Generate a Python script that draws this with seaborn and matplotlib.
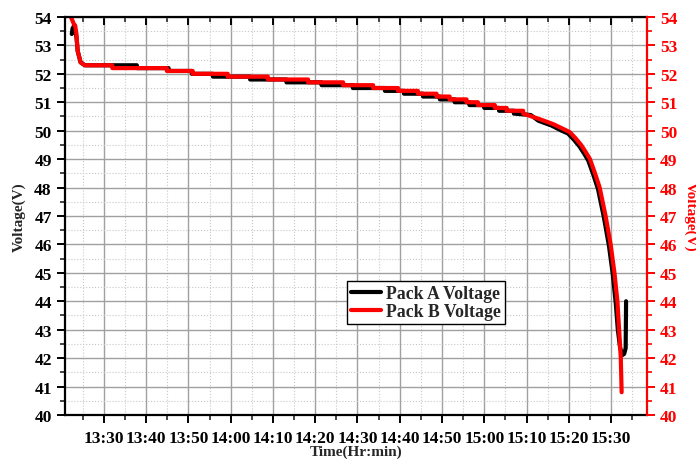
import pandas as pd
import matplotlib
matplotlib.use("Agg")
import matplotlib.pyplot as plt
from matplotlib.ticker import MultipleLocator, FuncFormatter
import seaborn as sns

# time in minutes after 13:00, voltage in V
pack_a_time = [22.4, 22.6, 23.0, 23.5, 23.8, 24.5, 25.5, 37.8, 37.8, 45.3, 45.3,
               50.8, 50.8, 55.8, 55.8, 64.6, 64.6, 73.2, 73.2, 81.5, 81.5,
               88.9, 88.9, 96.5, 96.5, 101.0, 101.0, 105.5, 105.5, 109.5, 109.5,
               113.0, 113.0, 116.5, 116.5, 120.0, 120.0, 123.5, 123.5, 127.0, 127.0,
               131.0, 132.8, 135.9, 138.3, 139.8, 141.1, 142.5, 143.6, 144.6, 145.8,
               146.9, 147.6, 148.3, 148.9, 149.5, 150.4, 151.1, 151.6, 152.1, 152.6,
               153.1, 153.45, 153.55]
pack_a_volt = [53.4, 53.6, 53.7, 53.3, 52.8, 52.4, 52.3, 52.3, 52.2, 52.2, 52.1,
               52.1, 52.0, 52.0, 51.9, 51.9, 51.8, 51.8, 51.7, 51.7, 51.6,
               51.6, 51.5, 51.5, 51.4, 51.4, 51.3, 51.3, 51.2, 51.2, 51.1,
               51.1, 51.0, 51.0, 50.9, 50.9, 50.8, 50.8, 50.7, 50.7, 50.6,
               50.55, 50.35, 50.18, 50.0, 49.9, 49.7, 49.45, 49.2, 48.95, 48.45,
               47.95, 47.45, 46.95, 46.45, 45.95, 44.95, 43.95, 43.0, 42.4, 42.1,
               42.15, 42.35, 44.0]

pack_b_time = [22.2, 22.9, 23.2, 23.5, 23.8, 24.5, 25.5, 32.0, 32.0, 44.9, 44.9,
               51.0, 51.0, 59.3, 59.3, 68.8, 68.8, 78.3, 78.3, 86.6, 86.6,
               93.7, 93.7, 99.6, 99.6, 104.3, 104.3, 108.7, 108.7, 111.8, 111.8,
               115.8, 115.8, 118.5, 118.5, 122.5, 122.5, 125.3, 125.3, 129.2, 129.2,
               133.2, 136.3, 138.7, 140.2, 141.5, 142.9, 144.0, 145.0, 146.2, 147.3,
               148.0, 148.7, 149.3, 149.9, 150.8, 151.5, 151.9, 152.3, 152.5]
pack_b_volt = [54.0, 53.75, 53.7, 53.4, 52.8, 52.4, 52.3, 52.3, 52.2, 52.2, 52.1,
               52.1, 52.0, 52.0, 51.9, 51.9, 51.8, 51.8, 51.7, 51.7, 51.6,
               51.6, 51.5, 51.5, 51.4, 51.4, 51.3, 51.3, 51.2, 51.2, 51.1,
               51.1, 51.0, 51.0, 50.9, 50.9, 50.8, 50.8, 50.7, 50.7, 50.6,
               50.4, 50.23, 50.06, 49.95, 49.75, 49.5, 49.25, 49.0, 48.5, 48.0,
               47.5, 47.0, 46.5, 46.0, 45.0, 44.0, 43.0, 42.0, 40.8]

df_a = pd.DataFrame({"Time": pack_a_time, "Voltage": pack_a_volt})
df_b = pd.DataFrame({"Time": pack_b_time, "Voltage": pack_b_volt})

sns.set_style("white")
plt.rcParams["font.family"] = ["Liberation Serif", "DejaVu Serif"]
plt.rcParams["font.weight"] = "bold"

fig = plt.figure(figsize=(6.96, 4.60), dpi=100)
ax = fig.add_axes([0.0934, 0.0957, 0.8362, 0.8653])

sns.lineplot(data=df_a, x="Time", y="Voltage", sort=False, estimator=None,
             color="black", linewidth=3.0, label="Pack A Voltage", ax=ax)
sns.lineplot(data=df_b, x="Time", y="Voltage", sort=False, estimator=None,
             color="#ff0000", linewidth=3.0, label="Pack B Voltage", ax=ax)

ax.set_xlim(20.8, 158.5)
ax.set_ylim(40, 54)
ax.xaxis.set_major_locator(MultipleLocator(10))
ax.xaxis.set_minor_locator(MultipleLocator(5))
ax.yaxis.set_major_locator(MultipleLocator(1))
ax.yaxis.set_minor_locator(MultipleLocator(0.5))
ax.xaxis.set_major_formatter(FuncFormatter(
    lambda v, p: f"{13 + int(round(v)) // 60}:{int(round(v)) % 60:02d}" if 30 <= v <= 150 else ""))

ax.grid(True, which="major", color="#a0a0a0", linewidth=1.0, linestyle="-")
ax.grid(True, which="minor", color="#c8c8c8", linewidth=0.8, linestyle=":")
ax.set_axisbelow(True)

for side in ["left", "bottom", "top"]:
    ax.spines[side].set_color("black")
    ax.spines[side].set_linewidth(1.6)
ax.spines["right"].set_visible(False)

ax.tick_params(axis="both", which="major", direction="out", length=6, width=1.4,
               labelsize=12.5, colors="black")
ax.tick_params(axis="both", which="minor", direction="out", length=3.5, width=1.2)
ax.tick_params(axis="x", which="major", pad=5)
ax.xaxis.set_ticks_position("both")
ax.tick_params(axis="x", which="both", labeltop=False)
# inward ticks on top spine
for tk in ax.xaxis.get_major_ticks() + ax.xaxis.get_minor_ticks():
    tk.tick2line.set_marker(3)

ax.set_xlabel("Time(Hr:min)", fontsize=11, fontweight="bold", labelpad=-1)
ax.set_ylabel("Voltage(V)", fontsize=11, fontweight="bold", labelpad=6)

ax2 = ax.twinx()
ax2.set_ylim(40, 54)
ax2.yaxis.set_major_locator(MultipleLocator(1))
ax2.yaxis.set_minor_locator(MultipleLocator(0.5))
for side in ["left", "bottom", "top"]:
    ax2.spines[side].set_visible(False)
ax2.spines["right"].set_color("#ff0000")
ax2.spines["right"].set_linewidth(1.6)
ax2.tick_params(axis="y", which="major", direction="out", length=6, width=1.4,
                labelsize=12.5, colors="#ff0000")
ax2.tick_params(axis="y", which="minor", direction="out", length=3.5, width=1.2,
                colors="#ff0000")
ax2.set_ylabel("Voltage(V)", fontsize=11, fontweight="bold", color="#ff0000",
               rotation=270, labelpad=14)
ax2.grid(False)

leg = ax.legend(loc="lower left", bbox_to_anchor=(0.485, 0.229), fontsize=12.8,
                frameon=True, fancybox=False, edgecolor="black", framealpha=1,
                handlelength=1.7, borderpad=0.2, labelspacing=0.08,
                handletextpad=0.3, borderaxespad=0)
leg.get_frame().set_linewidth(1.0)
for t in leg.get_texts():
    t.set_fontweight("bold")

fig.savefig("out.png", dpi=100)
